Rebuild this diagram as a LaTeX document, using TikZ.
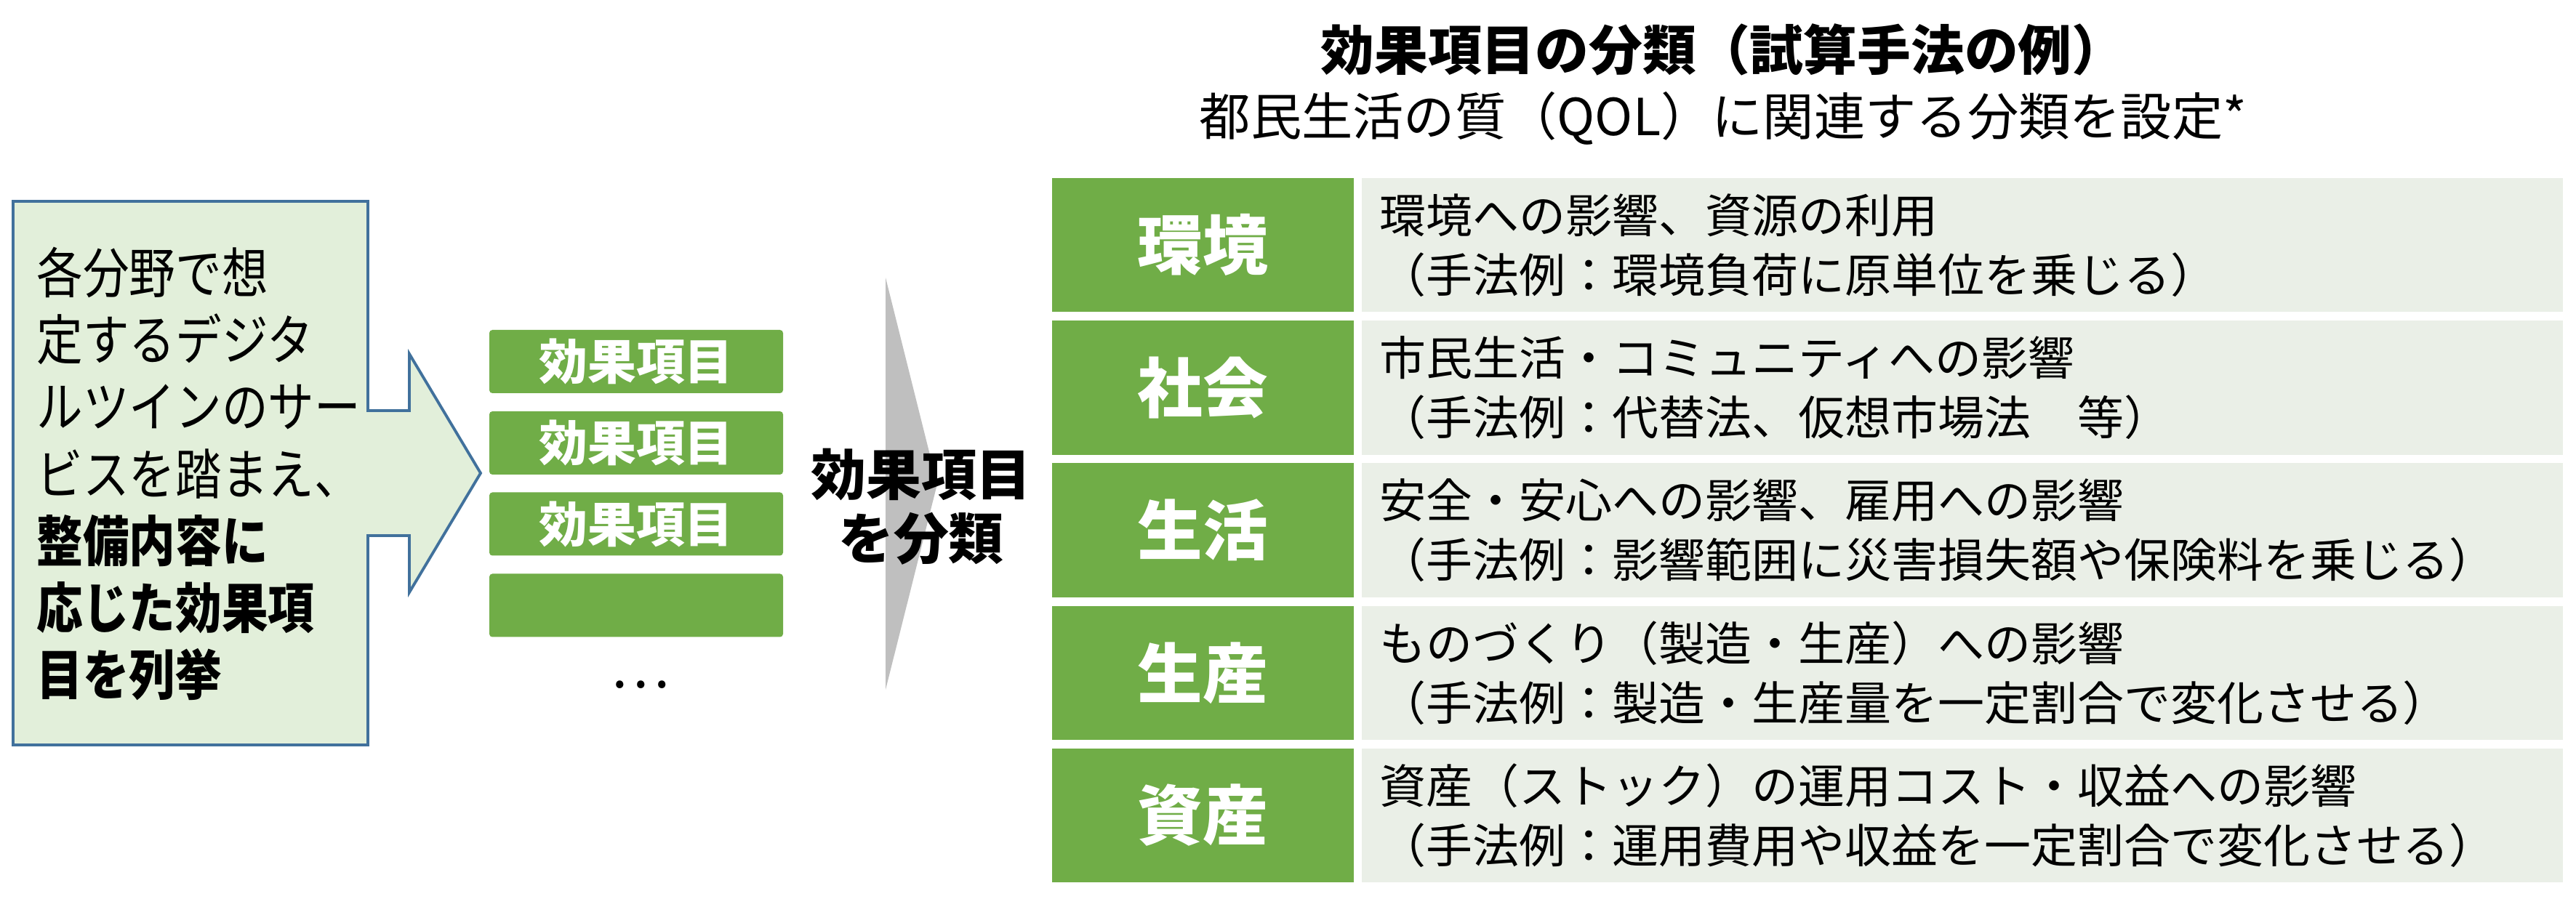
\documentclass[tikz,border=0pt]{standalone}
\usepackage{fontspec}
\setmainfont{Noto Sans CJK JP}
\newfontfamily\jpnarrow{Noto Sans CJK JP}[FakeStretch=0.85]
\begin{document}
\begin{tikzpicture}[callout/.style={line width=1.1pt, draw=tgBlue, fill=tgMint}, itembox/.style={fill=tgGreen, rounded corners=1.2pt, minimum width=4.04cm, minimum height=0.87cm, inner sep=0pt, text=white, font=\fontsize{19}{19}\selectfont\bfseries}, catcell/.style={fill=tgGreen, minimum width=4.15cm, minimum height=1.845cm, inner sep=0pt, text=white, font=\fontsize{25.5}{25.5}\selectfont\bfseries}, desccell/.style={fill=tgPale, minimum width=16.52cm, minimum height=1.845cm, inner sep=0pt}, desctext/.style={anchor=west, align=left, inner sep=0pt, font=\fontsize{18.2}{23.3}\selectfont}, heading/.style={inner sep=0pt, font=\fontsize{21}{21}\selectfont}]
\definecolor{tgGreen}{RGB}{112,173,71}
\definecolor{tgPale}{RGB}{234,239,231}
\definecolor{tgMint}{RGB}{226,239,218}
\definecolor{tgBlue}{RGB}{65,113,156}
\definecolor{tgGrey}{RGB}{191,191,191}
\useasboundingbox (0,0) rectangle (35.43,12.47);
% left: what each field lists
\draw[callout] (0.18,9.70) -- (5.06,9.70) -- (5.06,6.82) -- (5.63,6.82) -- (5.63,7.60) -- (6.61,5.96) -- (5.63,4.32) -- (5.63,5.10) -- (5.06,5.10) -- (5.06,2.22) -- (0.18,2.22) -- cycle;
\node[anchor=west, align=left, inner sep=0pt, font=\jpnarrow\fontsize{21.3}{26.2}\selectfont] (src) at (0.50,5.95) {各分野で想\\定するデジタ\\ルツインのサー\\ビスを踏まえ、\\\textbf{整備内容に}\\\textbf{応じた効果項}\\\textbf{目を列挙}};
% the listed items
\node[itembox] (item1) at (8.75,7.495) {効果項目};
\node[itembox] (item2) at (8.75,6.375) {効果項目};
\node[itembox] (item3) at (8.75,5.260) {効果項目};
\node[itembox] (item4) at (8.75,4.140) {};
\node[inner sep=0pt, font=\fontsize{22}{22}\selectfont] (more) at (8.80,3.05) {…};
% classify
\fill[tgGrey] (12.18,8.65) -- (12.89,5.81) -- (12.18,2.98) -- cycle;
\node[align=center, inner sep=0pt, font=\fontsize{21.6}{25}\selectfont\bfseries] (sort) at (12.67,5.50) {効果項目\\を分類};
% right: categories
\node[heading, font=\fontsize{21}{21}\selectfont\bfseries] (title) at (23.70,11.79) {効果項目の分類（試算手法の例）};
\node[heading, font=\fontsize{20}{20}\selectfont] (subtitle) at (23.70,10.84) {都民生活の質（QOL）に関連する分類を設定*};
\node[catcell] (env) at (16.545,9.0975) {環境};
\node[desccell] (envd) at (26.99,9.0975) {};
\node[desctext] at (18.97,9.0975) {環境への影響、資源の利用\\（手法例：環境負荷に原単位を乗じる）};
\node[catcell] (soc) at (16.545,7.1355) {社会};
\node[desccell] (socd) at (26.99,7.1355) {};
\node[desctext] at (18.97,7.1355) {市民生活・コミュニティへの影響\\（手法例：代替法、仮想市場法　等）};
\node[catcell] (life) at (16.545,5.1735) {生活};
\node[desccell] (lifed) at (26.99,5.1735) {};
\node[desctext] at (18.97,5.1735) {安全・安心への影響、雇用への影響\\（手法例：影響範囲に災害損失額や保険料を乗じる）};
\node[catcell] (prod) at (16.545,3.2115) {生産};
\node[desccell] (prodd) at (26.99,3.2115) {};
\node[desctext] at (18.97,3.2115) {ものづくり（製造・生産）への影響\\（手法例：製造・生産量を一定割合で変化させる）};
\node[catcell] (asset) at (16.545,1.2495) {資産};
\node[desccell] (assetd) at (26.99,1.2495) {};
\node[desctext] at (18.97,1.2495) {資産（ストック）の運用コスト・収益への影響\\（手法例：運用費用や収益を一定割合で変化させる）};
\end{tikzpicture}
\end{document}
